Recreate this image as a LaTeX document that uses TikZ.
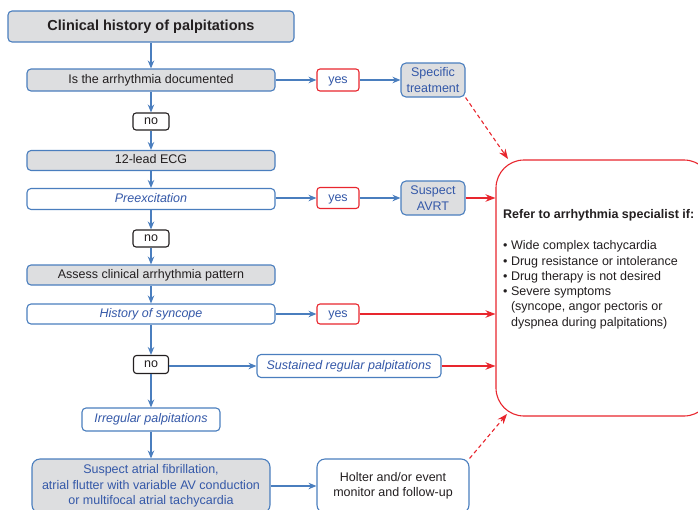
\documentclass[tikz,border=0pt]{standalone}
\usepackage{fontspec}
\setmainfont{Liberation Sans}
\usetikzlibrary{arrows.meta}
\definecolor{lineblue}{RGB}{74,126,190}
\definecolor{textblue}{RGB}{52,88,168}
\definecolor{boxgray}{RGB}{221,222,224}
\definecolor{alertred}{RGB}{232,38,46}
\definecolor{inkdark}{RGB}{35,31,32}
\begin{document}
\begin{tikzpicture}[x=1pt,y=-1pt,
  every node/.style={font=\fontsize{12.5}{15.3}\selectfont, inner sep=0pt},
  single/.style={text height=9pt, text depth=2.6pt},
  box/.style={draw=lineblue, line width=1.1pt, rounded corners=4pt, minimum height=21pt, align=center},
  graybox/.style={box, fill=boxgray, text=inkdark},
  whitebox/.style={box, single, fill=white, text=textblue, font=\fontsize{12.5}{15.3}\selectfont\itshape},
  yesbox/.style={single, draw=alertred, line width=1.1pt, rounded corners=3pt, fill=white, text=textblue, minimum width=42pt, minimum height=22pt},
  nobox/.style={single, draw=inkdark, line width=1.1pt, rounded corners=3pt, fill=white, text=inkdark, minimum width=36pt, minimum height=17pt},
  flow/.style={draw=lineblue, line width=1.1pt, -{Stealth[length=8pt,width=6.5pt]}},
  alert/.style={draw=alertred, line width=1.1pt, -{Stealth[length=10pt,width=7.5pt]}},
]
\useasboundingbox (0,0) rectangle (698,509);

% main column
\node[graybox, minimum width=286pt, minimum height=31pt, text height=10.5pt, text depth=3pt,
      font=\fontsize{14.5}{17}\selectfont\bfseries] (title) at (151,26.5) {Clinical history of palpitations};
\node[graybox, single, minimum width=248pt, minimum height=22pt] (doc) at (151,80) {Is the arrhythmia documented};
\node[nobox] (no1) at (151,121.5) {no};
\node[graybox, single, minimum width=248pt, minimum height=20pt] (ecg) at (151,160.5) {12-lead ECG};
\node[whitebox, minimum width=248pt] (pre) at (151,199) {Preexcitation};
\node[nobox] (no2) at (151,238.5) {no};
\node[graybox, single, minimum width=248pt, minimum height=20pt] (assess) at (151,275) {Assess clinical arrhythmia pattern};
\node[whitebox, minimum width=248pt, minimum height=20pt] (hist) at (151,314) {History of syncope};
\node[nobox, minimum width=35pt, minimum height=18pt] (no3) at (151,364.5) {no};
\node[whitebox, minimum width=138pt, minimum height=23pt] (irr) at (151,419.5) {Irregular palpitations};
\node[graybox, text=textblue, rounded corners=8pt, minimum width=238pt, minimum height=54pt] (saf) at (151,486)
  {Suspect atrial fibrillation,\\atrial flutter with variable AV conduction\\or multifocal atrial tachycardia};

% right-hand branches
\node[yesbox] (yes1) at (338,80) {yes};
\node[graybox, text=textblue, rounded corners=5pt, minimum width=64pt, minimum height=34pt] (spec) at (433,80) {Specific\\treatment};
\node[yesbox, minimum height=21pt] (yes2) at (338,198) {yes};
\node[graybox, text=textblue, rounded corners=5pt, minimum width=64pt, minimum height=34pt] (avrt) at (433,198) {Suspect\\AVRT};
\node[yesbox, minimum height=20pt] (yes3) at (338,314) {yes};
\node[whitebox, minimum width=184pt, minimum height=23pt] (sus) at (349,366) {Sustained regular palpitations};
\node[box, fill=white, text=inkdark, rounded corners=8pt, minimum width=152pt, minimum height=54pt] (holter) at (393,486)
  {Holter and/or event\\monitor and follow-up};

% referral box
\node[draw=alertred, line width=1.1pt, rounded corners=28pt, fill=white,
      minimum width=216pt, minimum height=256pt] (refer) at (604,288) {};
\node[single, anchor=west, text=inkdark, font=\fontsize{12.5}{15.3}\selectfont\bfseries] (rtitle) at (503,215)
  {Refer to arrhythmia specialist if:};
\node[anchor=north west, align=left, text=inkdark] (rlist) at (503,240.5)
  {\textbullet\ Wide complex tachycardia\\
   \textbullet\ Drug resistance or intolerance\\
   \textbullet\ Drug therapy is not desired\\
   \textbullet\ Severe symptoms\\
   \phantom{\textbullet\ }(syncope, angor pectoris or\\
   \phantom{\textbullet\ }dyspnea during palpitations)};
\coordinate (rtop) at (508,159);
\coordinate (rbot) at (507,414);

% vertical flow
\draw[flow] (title) -- (doc);
\draw[flow] (doc) -- (no1);
\draw[flow] (no1) -- (ecg);
\draw[flow] (ecg) -- (pre);
\draw[flow] (pre) -- (no2);
\draw[flow] (no2) -- (assess);
\draw[flow] (assess) -- (hist);
\draw[flow] (hist) -- (no3);
\draw[flow] (no3) -- (irr);
\draw[flow] (irr) -- (saf);

% horizontal flow
\draw[flow] (doc) -- (yes1);
\draw[flow] (yes1) -- (spec);
\draw[flow] (pre.east |- yes2) -- (yes2);
\draw[flow] (yes2) -- (avrt);
\draw[flow] (hist) -- (yes3);
\draw[flow] (no3.east |- sus) -- (sus);
\draw[flow] (saf) -- (holter);

% referral arrows
\draw[alert] (avrt) -- (avrt -| refer.west);
\draw[alert] (yes3) -- (yes3 -| refer.west);
\draw[alert] (sus) -- (sus -| refer.west);
\draw[alert, dash pattern=on 4pt off 3pt] (spec.south east) -- (rtop);
\draw[alert, dash pattern=on 4pt off 3pt] (holter.north east) -- (rbot);
\end{tikzpicture}
\end{document}
